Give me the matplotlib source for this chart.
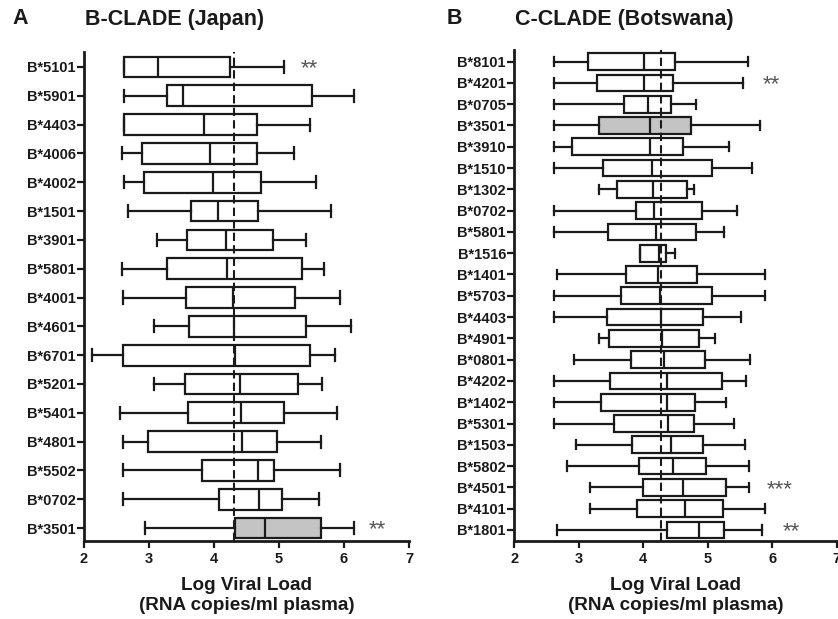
import numpy as np
import matplotlib
matplotlib.use("Agg")
import matplotlib.pyplot as plt

plt.rcParams['font.family'] = ['Liberation Sans', 'DejaVu Sans']
plt.rcParams['font.weight'] = 'bold'

# B-clade (Japan), listed top to bottom
b_alleles = ["B*5101", "B*5901", "B*4403", "B*4006", "B*4002", "B*1501", "B*3901",
             "B*5801", "B*4001", "B*4601", "B*6701", "B*5201", "B*5401", "B*4801",
             "B*5502", "B*0702", "B*3501"]
b_wlo = [2.62, 2.62, 2.62, 2.58, 2.62, 2.67, 3.13, 2.58, 2.60, 3.08, 2.12, 3.08, 2.56, 2.60, 2.60, 2.60, 2.94]
b_q1 = [2.62, 3.27, 2.62, 2.90, 2.93, 3.64, 3.59, 3.28, 3.57, 3.61, 2.60, 3.55, 3.60, 2.98, 3.82, 4.08, 4.33]
b_med = [3.14, 3.52, 3.84, 3.94, 3.99, 4.06, 4.18, 4.20, 4.30, 4.31, 4.33, 4.40, 4.42, 4.43, 4.68, 4.69, 4.78]
b_q3 = [4.25, 5.51, 4.66, 4.66, 4.73, 4.68, 4.91, 5.36, 5.25, 5.42, 5.48, 5.30, 5.07, 4.97, 4.92, 5.04, 5.65]
b_whi = [5.07, 6.15, 5.47, 5.23, 5.57, 5.80, 5.41, 5.70, 5.94, 6.11, 5.87, 5.66, 5.90, 5.64, 5.94, 5.62, 6.16]
b_stars = {"B*5101": ("**", 5.46), "B*3501": ("**", 6.52)}
b_ref = 4.31

# C-clade (Botswana), listed top to bottom
c_alleles = ["B*8101", "B*4201", "B*0705", "B*3501", "B*3910", "B*1510", "B*1302", "B*0702",
             "B*5801", "B*1516", "B*1401", "B*5703", "B*4403", "B*4901", "B*0801", "B*4202",
             "B*1402", "B*5301", "B*1503", "B*5802", "B*4501", "B*4101", "B*1801"]
c_wlo = [2.62, 2.62, 2.62, 2.62, 2.62, 2.62, 3.32, 2.62, 2.62, 3.95, 2.67, 2.61, 2.61, 3.31,
         2.93, 2.61, 2.61, 2.61, 2.96, 2.81, 3.18, 3.18, 2.66]
c_q1 = [3.14, 3.28, 3.70, 3.31, 2.89, 3.38, 3.59, 3.89, 3.45, 3.95, 3.74, 3.66, 3.43, 3.47,
        3.81, 3.48, 3.35, 3.55, 3.83, 3.93, 3.99, 3.91, 4.37]
c_med = [4.01, 4.01, 4.08, 4.10, 4.11, 4.13, 4.15, 4.17, 4.20, 4.24, 4.23, 4.26, 4.28, 4.29,
         4.32, 4.37, 4.37, 4.39, 4.43, 4.46, 4.61, 4.65, 4.87]
c_q3 = [4.49, 4.46, 4.43, 4.74, 4.62, 5.06, 4.68, 4.91, 4.81, 4.36, 4.83, 5.06, 4.93, 4.86,
        4.96, 5.22, 4.80, 4.78, 4.93, 4.98, 5.28, 5.23, 5.25]
c_whi = [5.62, 5.55, 4.82, 5.81, 5.33, 5.68, 4.78, 5.45, 5.25, 4.49, 5.89, 5.89, 5.52, 5.12,
         5.65, 5.59, 5.29, 5.41, 5.58, 5.64, 5.64, 5.89, 5.84]
c_stars = {"B*4201": ("**", 5.98), "B*4501": ("***", 6.11), "B*1801": ("**", 6.30)}
c_ref = 4.28

highlight = "B*3501"
text_col = "#1a1a1a"


def draw_panel(ax, alleles, wlo, q1, med, q3, whi, stars, ref, width, cap):
    n = len(alleles)
    pos = np.arange(n)[::-1]
    stats = []
    for i in range(n):
        stats.append(dict(label=alleles[i], whislo=wlo[i], q1=q1[i], med=med[i],
                          q3=q3[i], whishi=whi[i], fliers=[]))
    line = dict(color=text_col, linewidth=1.6)
    res = ax.bxp(stats, positions=pos, widths=width, orientation='horizontal',
                 patch_artist=True, showfliers=False, capwidths=cap,
                 boxprops=dict(facecolor='white', edgecolor=text_col, linewidth=1.6),
                 whiskerprops=line, capprops=line, medianprops=line)
    for name, box in zip(alleles, res['boxes']):
        if name == highlight:
            box.set_facecolor('#c4c4c4')
    ax.axvline(ref, color=text_col, linestyle=(0, (4, 2)), linewidth=1.5, zorder=5)
    for name, (s, x) in stars.items():
        y = pos[alleles.index(name)]
        ax.annotate(s, (x, y), xytext=(0, -1.5), textcoords='offset points',
                    ha='center', va='center', fontsize=16,
                    color='#555555', fontweight='normal')

    ax.set_xlim(2, 7)
    ax.set_xticks([2, 3, 4, 5, 6, 7])
    ax.set_yticks(pos)
    ax.set_yticklabels(alleles)
    for sp in ['top', 'right']:
        ax.spines[sp].set_visible(False)
    for sp in ['left', 'bottom']:
        ax.spines[sp].set_linewidth(2)
        ax.spines[sp].set_color(text_col)
    ax.tick_params(axis='both', colors=text_col, width=1.6, length=5, labelsize=10.5)
    ax.tick_params(axis='x', pad=3)
    ax.tick_params(axis='y', pad=1)
    for lab in ax.get_xticklabels() + ax.get_yticklabels():
        lab.set_fontweight('bold')
    ax.set_xlabel("Log Viral Load\n(RNA copies/ml plasma)", fontsize=13.6,
                  fontweight='bold', color=text_col, labelpad=8, linespacing=1.2)


fig = plt.figure(figsize=(8.38, 6.19), dpi=100)
ax1 = fig.add_axes([0.1002, 0.126, 0.3878, 0.790])
ax2 = fig.add_axes([0.6137, 0.126, 0.3848, 0.793])

draw_panel(ax1, b_alleles, b_wlo, b_q1, b_med, b_q3, b_whi, b_stars, b_ref, 0.72, 0.42)
ax1.set_ylim(-0.45, len(b_alleles) - 1 + 0.52)
draw_panel(ax2, c_alleles, c_wlo, c_q1, c_med, c_q3, c_whi, c_stars, c_ref, 0.78, 0.44)
ax2.set_ylim(-0.52, len(c_alleles) - 1 + 0.54)

ty = 1 - 19 / 619
fig.text(12 / 838, ty, "A", fontsize=15.5, fontweight='bold', color=text_col, va='center')
fig.text(85 / 838, ty, "B-CLADE (Japan)", fontsize=15.5, fontweight='bold',
         color=text_col, va='center')
fig.text(447 / 838, ty, "B", fontsize=15.5, fontweight='bold', color=text_col, va='center')
fig.text(515 / 838, ty, "C-CLADE (Botswana)", fontsize=15.5, fontweight='bold',
         color=text_col, va='center')

fig.savefig("out.png", dpi=100)
